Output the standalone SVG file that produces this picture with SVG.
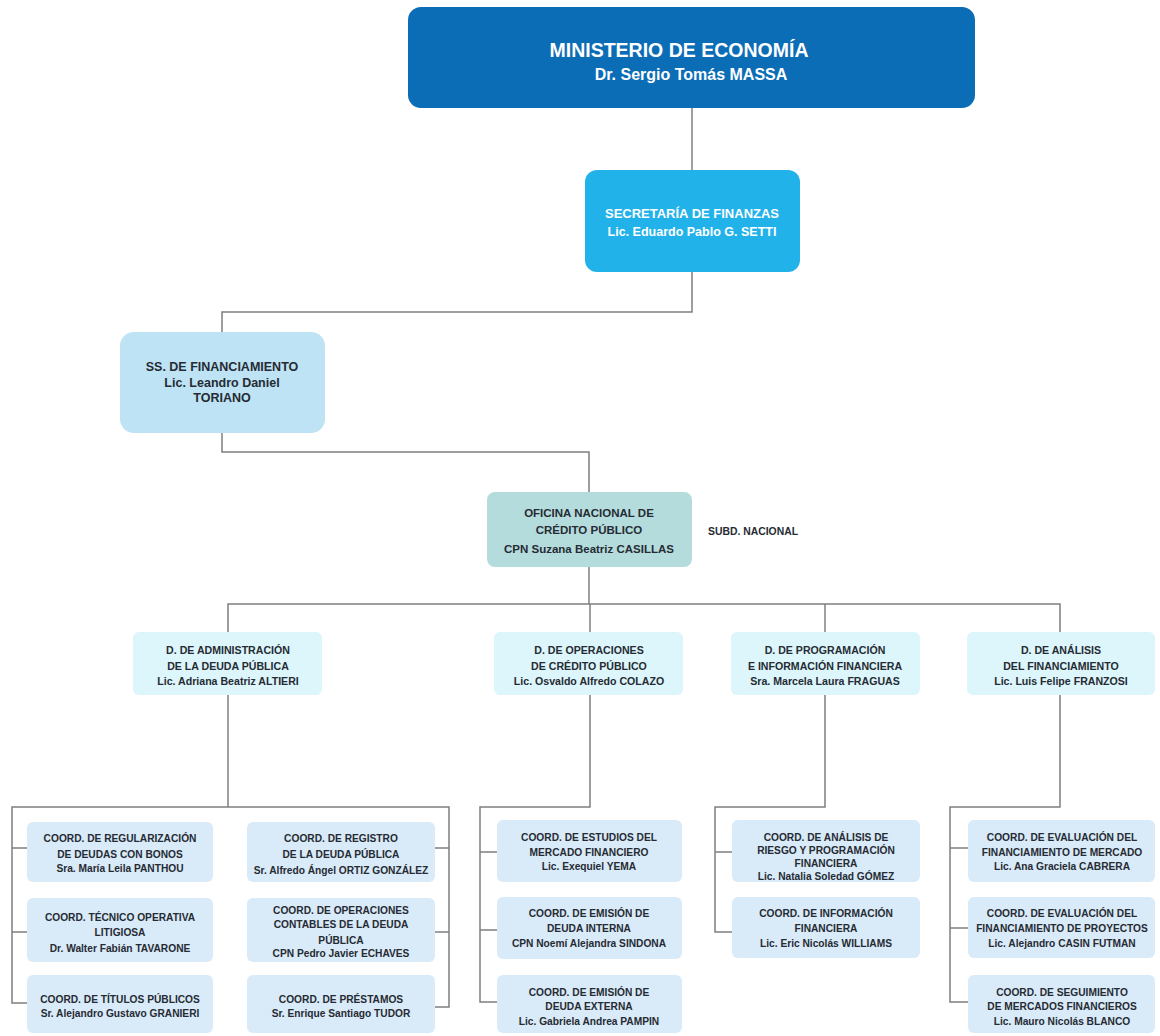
<svg xmlns="http://www.w3.org/2000/svg" width="1160" height="1036" viewBox="0 0 1160 1036">
<style>
.bg{fill:#ffffff}
.ln{fill:none;stroke:#7f7f7f;stroke-width:1.5}
.t{font-family:"Liberation Sans",Arial,sans-serif;font-weight:bold;text-anchor:middle;fill:#262b33}
.w{fill:#ffffff}
.min{fill:#0b6db6}
.sec{fill:#22b2ea}
.ss{fill:#bde3f5}
.onc{fill:#b4dcdd}
.dir{fill:#dcf6fb}
.co{fill:#d9eaf8}
.c{font-size:10.2px}
.d{font-size:10.6px}
</style>
<rect class="bg" x="0" y="0" width="1160" height="1036"/>
<g id="connectors">
<path class="ln" d="M692,108 V170"/>
<path class="ln" d="M692,272 V312 H222 V332"/>
<path class="ln" d="M222,433 V452 H589 V492"/>
<path class="ln" d="M589,567 V604"/>
<path class="ln" d="M228,632 V604 H1060 V632"/>
<path class="ln" d="M590,604 V632"/>
<path class="ln" d="M825,604 V632"/>
<path class="ln" d="M228,695 V807"/>
<path class="ln" d="M27,1003 H12 V807 H449 V1007 H435"/>
<path class="ln" d="M12,848 H27 M12,932 H27 M449,848 H435 M449,932 H435"/>
<path class="ln" d="M590,695 V807 H480 V1002 H497 M480,852 H497 M480,930 H497"/>
<path class="ln" d="M825,695 V807 H715 V932 H732 M715,852 H732"/>
<path class="ln" d="M1060,695 V807 H950 V1002 H968 M950,848 H968 M950,928 H968"/>
</g>
<g id="ministerio">
<rect class="min" x="408" y="7" width="567" height="101" rx="13"/>
<text class="t w" x="679" y="57" font-size="19.5">MINISTERIO DE ECONOMÍA</text>
<text class="t w" x="691" y="80" font-size="16">Dr. Sergio Tomás MASSA</text>
</g>
<g id="secretaria">
<rect class="sec" x="585" y="170" width="215" height="102" rx="12"/>
<text class="t w" x="692" y="218" font-size="13">SECRETARÍA DE FINANZAS</text>
<text class="t w" x="692" y="236" font-size="12.5">Lic. Eduardo Pablo G. SETTI</text>
</g>
<g id="ss-financiamiento">
<rect class="ss" x="120" y="332" width="205" height="101" rx="14"/>
<text class="t" x="222" y="371" font-size="12.5">SS. DE FINANCIAMIENTO</text>
<text class="t" x="222" y="387" font-size="12.5">Lic. Leandro Daniel</text>
<text class="t" x="222" y="402" font-size="12.5">TORIANO</text>
</g>
<g id="oficina">
<rect class="onc" x="487" y="492" width="205" height="75" rx="8"/>
<text class="t" x="589" y="517" font-size="11.5">OFICINA NACIONAL DE</text>
<text class="t" x="589" y="534" font-size="11.5">CRÉDITO PÚBLICO</text>
<text class="t" x="589" y="553" font-size="11.5">CPN Suzana Beatriz CASILLAS</text>
</g>
<g id="subd-nacional">
<text class="t" x="753" y="535" font-size="10.4">SUBD. NACIONAL</text>
</g>
<g id="d-administracion">
<rect class="dir" x="133" y="632" width="189" height="63" rx="6"/>
<text class="t d" x="228" y="654">D. DE ADMINISTRACIÓN</text>
<text class="t d" x="228" y="670">DE LA DEUDA PÚBLICA</text>
<text class="t d" x="228" y="685">Lic. Adriana Beatriz ALTIERI</text>
</g>
<g id="d-operaciones">
<rect class="dir" x="494" y="632" width="189" height="63" rx="6"/>
<text class="t d" x="589" y="654">D. DE OPERACIONES</text>
<text class="t d" x="589" y="670">DE CRÉDITO PÚBLICO</text>
<text class="t d" x="589" y="685">Lic. Osvaldo Alfredo COLAZO</text>
</g>
<g id="d-programacion">
<rect class="dir" x="731" y="632" width="189" height="63" rx="6"/>
<text class="t d" x="825" y="654">D. DE PROGRAMACIÓN</text>
<text class="t d" x="825" y="670">E INFORMACIÓN FINANCIERA</text>
<text class="t d" x="825" y="685">Sra. Marcela Laura FRAGUAS</text>
</g>
<g id="d-analisis">
<rect class="dir" x="967" y="632" width="188" height="63" rx="6"/>
<text class="t d" x="1061" y="654">D. DE ANÁLISIS</text>
<text class="t d" x="1061" y="670">DEL FINANCIAMIENTO</text>
<text class="t d" x="1061" y="685">Lic. Luis Felipe FRANZOSI</text>
</g>
<g id="coord-regularizacion">
<rect class="co" x="27" y="822" width="186" height="60" rx="6"/>
<text class="t c" x="120" y="842">COORD. DE REGULARIZACIÓN</text>
<text class="t c" x="120" y="858">DE DEUDAS CON BONOS</text>
<text class="t c" x="120" y="872">Sra. María Leila PANTHOU</text>
</g>
<g id="coord-tecnico">
<rect class="co" x="27" y="898" width="186" height="64" rx="6"/>
<text class="t c" x="120" y="921">COORD. TÉCNICO OPERATIVA</text>
<text class="t c" x="120" y="936">LITIGIOSA</text>
<text class="t c" x="120" y="952">Dr. Walter Fabián TAVARONE</text>
</g>
<g id="coord-titulos">
<rect class="co" x="27" y="975" width="186" height="58" rx="6"/>
<text class="t c" x="120" y="1003">COORD. DE TÍTULOS PÚBLICOS</text>
<text class="t c" x="120" y="1017">Sr. Alejandro Gustavo GRANIERI</text>
</g>
<g id="coord-registro">
<rect class="co" x="247" y="822" width="188" height="60" rx="6"/>
<text class="t c" x="341" y="842">COORD. DE REGISTRO</text>
<text class="t c" x="341" y="858">DE LA DEUDA PÚBLICA</text>
<text class="t c" x="341" y="874">Sr. Alfredo Ángel ORTIZ GONZÁLEZ</text>
</g>
<g id="coord-operaciones-contables">
<rect class="co" x="247" y="898" width="188" height="64" rx="6"/>
<text class="t c" x="341" y="914">COORD. DE OPERACIONES</text>
<text class="t c" x="341" y="928">CONTABLES DE LA DEUDA</text>
<text class="t c" x="341" y="944">PÚBLICA</text>
<text class="t c" x="341" y="957">CPN Pedro Javier ECHAVES</text>
</g>
<g id="coord-prestamos">
<rect class="co" x="247" y="975" width="188" height="58" rx="6"/>
<text class="t c" x="341" y="1003">COORD. DE PRÉSTAMOS</text>
<text class="t c" x="341" y="1017">Sr. Enrique Santiago TUDOR</text>
</g>
<g id="coord-estudios">
<rect class="co" x="497" y="820" width="185" height="62" rx="6"/>
<text class="t c" x="589" y="841">COORD. DE ESTUDIOS DEL</text>
<text class="t c" x="589" y="856">MERCADO FINANCIERO</text>
<text class="t c" x="589" y="870">Lic. Exequiel YEMA</text>
</g>
<g id="coord-emision-interna">
<rect class="co" x="497" y="897" width="185" height="62" rx="6"/>
<text class="t c" x="589" y="917">COORD. DE EMISIÓN DE</text>
<text class="t c" x="589" y="932">DEUDA INTERNA</text>
<text class="t c" x="589" y="947">CPN Noemí Alejandra SINDONA</text>
</g>
<g id="coord-emision-externa">
<rect class="co" x="497" y="975" width="185" height="58" rx="6"/>
<text class="t c" x="589" y="996">COORD. DE EMISIÓN DE</text>
<text class="t c" x="589" y="1010">DEUDA EXTERNA</text>
<text class="t c" x="589" y="1025">Lic. Gabriela Andrea PAMPIN</text>
</g>
<g id="coord-analisis-riesgo">
<rect class="co" x="732" y="820" width="188" height="62" rx="6"/>
<text class="t c" x="826" y="841">COORD. DE ANÁLISIS DE</text>
<text class="t c" x="826" y="854">RIESGO Y PROGRAMACIÓN</text>
<text class="t c" x="826" y="867">FINANCIERA</text>
<text class="t c" x="826" y="880">Lic. Natalia Soledad GÓMEZ</text>
</g>
<g id="coord-informacion">
<rect class="co" x="732" y="897" width="188" height="61" rx="6"/>
<text class="t c" x="826" y="917">COORD. DE INFORMACIÓN</text>
<text class="t c" x="826" y="932">FINANCIERA</text>
<text class="t c" x="826" y="947">Lic. Eric Nicolás WILLIAMS</text>
</g>
<g id="coord-eval-mercado">
<rect class="co" x="968" y="820" width="187" height="62" rx="6"/>
<text class="t c" x="1062" y="841">COORD. DE EVALUACIÓN DEL</text>
<text class="t c" x="1062" y="856">FINANCIAMIENTO DE MERCADO</text>
<text class="t c" x="1062" y="870">Lic. Ana Graciela CABRERA</text>
</g>
<g id="coord-eval-proyectos">
<rect class="co" x="968" y="897" width="187" height="61" rx="6"/>
<text class="t c" x="1062" y="917">COORD. DE EVALUACIÓN DEL</text>
<text class="t c" x="1062" y="932">FINANCIAMIENTO DE PROYECTOS</text>
<text class="t c" x="1062" y="947">Lic. Alejandro CASIN FUTMAN</text>
</g>
<g id="coord-seguimiento">
<rect class="co" x="968" y="975" width="187" height="58" rx="6"/>
<text class="t c" x="1062" y="996">COORD. DE SEGUIMIENTO</text>
<text class="t c" x="1062" y="1010">DE MERCADOS FINANCIEROS</text>
<text class="t c" x="1062" y="1025">Lic. Mauro Nicolás BLANCO</text>
</g>
</svg>
